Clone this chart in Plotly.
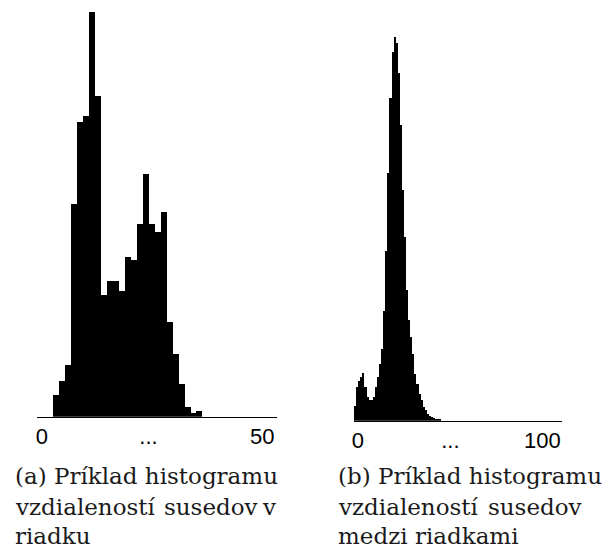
import plotly.graph_objects as go

# Left histogram (a): bin heights (neighbour distances within a row)
hist_a = [21.7, 35.7, 51.7, 212.7, 294.3, 300.7, 405.0, 320.7, 122.0, 135.7,
          135.7, 126.0, 160.0, 156.7, 192.3, 242.7, 192.3, 184.3, 204.7, 94.3,
          62.3, 32.3, 10.0, 4.0, 6.0]
# Right histogram (b): bin heights (neighbour distances between rows)
hist_b = [15, 34, 40, 44, 48, 34, 24, 21, 21, 24,
          34, 44, 57, 72, 110, 170, 248, 323, 369, 384,
          378, 348, 296, 231, 184, 131, 101, 84, 67, 47,
          37, 27, 21, 14, 11, 7, 5, 4, 3, 2, 2, 1]

ticks_a = ["0", "...", "50"]
ticks_b = ["0", "...", "100"]

caption_a1 = "(a) Príklad histogramu"
caption_a2 = ["vzdialeností", "susedov", "v"]
caption_a3 = "riadku"
caption_b1 = "(b) Príklad histogramu"
caption_b2 = ["vzdialeností", "susedov"]
caption_b3 = "medzi riadkami"

W, H = 611, 550

fig = go.Figure()
fig.add_trace(go.Bar(x=list(range(len(hist_a))), y=hist_a, width=1,
                     marker=dict(color="black", line=dict(width=0)),
                     xaxis="x", yaxis="y", showlegend=False))
fig.add_trace(go.Bar(x=[i + 0.5 for i in range(len(hist_b))], y=hist_b, width=1,
                     marker=dict(color="black", line=dict(width=0)),
                     xaxis="x2", yaxis="y2", showlegend=False))

tickfont = dict(family="Liberation Sans, Arial, sans-serif", size=22, color="black")

fig.update_layout(
    width=W, height=H,
    margin=dict(l=0, r=0, t=0, b=0),
    paper_bgcolor="white", plot_bgcolor="white",
    bargap=0,
    xaxis=dict(domain=[35 / W, 276 / W], range=[-3.167, 37.0],
               showgrid=False, zeroline=False, showline=True,
               linecolor="black", linewidth=1,
               tickmode="array", tickvals=[-2.33, 15.5, 34.5], ticktext=ticks_a,
               ticks="", tickfont=tickfont, ticklabelstandoff=0),
    yaxis=dict(domain=[1 - 416.7 / H, 1], range=[0, 416.7], visible=False),
    xaxis2=dict(domain=[352.7 / W, 561.7 / W], range=[0, 100], anchor="y2",
                showgrid=False, zeroline=False, showline=True,
                linecolor="black", linewidth=1,
                tickmode="array", tickvals=[2.1, 46.5, 90.6], ticktext=ticks_b,
                ticks="", tickfont=tickfont, ticklabelstandoff=0),
    yaxis2=dict(domain=[1 - 420.7 / H, 1], range=[0, 420.7], visible=False,
                anchor="x2"),
)

capfont = dict(family="DejaVu Serif, serif", size=23, color="#1a1a1a")


def cap(text, x, yc, xanchor="left"):
    fig.add_annotation(text=text, x=x / W, y=1 - yc / H, xref="paper", yref="paper",
                       xanchor=xanchor, yanchor="middle", showarrow=False,
                       font=capfont, borderpad=0)


c1, c2, c3 = 476, 507, 536
cap(caption_a1, 12, c1)
cap(caption_a2[0], 12, c2)
cap(caption_a2[1], 162, c2)
cap(caption_a2[2], 276, c2, "right")
cap(caption_a3, 12, c3)
cap(caption_b1, 336, c1)
cap(caption_b2[0], 336, c2)
cap(caption_b2[1], 583, c2, "right")
cap(caption_b3, 336, c3)

fig.write_html("out.html", config={"displayModeBar": False},
               post_script="document.body.style.margin='0';document.body.style.overflow='hidden';")
